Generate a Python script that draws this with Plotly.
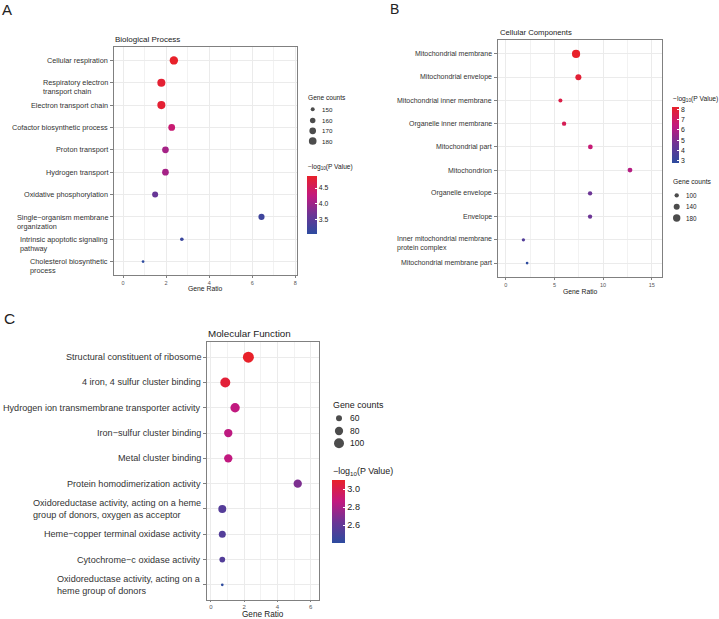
import math
import plotly.graph_objects as go

W, H = 719, 619
FONT = "Liberation Sans, Arial, sans-serif"

# ---------------- data ----------------
bp_terms = ["Cellular respiration", "Respiratory electron\ntransport chain", "Electron transport chain",
            "Cofactor biosynthetic process", "Proton transport", "Hydrogen transport",
            "Oxidative phosphorylation", "Single\u2212organism membrane\norganization",
            "Intrinsic apoptotic signaling\npathway", "Cholesterol biosynthetic\nprocess"]
bp_ratio = [2.36, 1.78, 1.78, 2.26, 1.97, 1.97, 1.49, 6.43, 2.73, 0.93]
bp_counts = [188, 184, 184, 171, 170, 170, 164, 165, 148, 144]
bp_logp = [4.89, 4.82, 4.82, 4.35, 4.05, 4.05, 3.6, 3.2, 3.15, 3.02]
bp_size_breaks = [150, 160, 170, 180]
bp_color_ticks = [3.5, 4.0, 4.5]
bp_x_ticks = [0, 2, 4, 6, 8]

cc_terms = ["Mitochondrial membrane", "Mitochondrial envelope", "Mitochondrial inner membrane",
            "Organelle inner membrane", "Mitochondrial part", "Mitochondrion", "Organelle envelope",
            "Envelope", "Inner mitochondrial membrane\nprotein complex", "Mitochondrial membrane part"]
cc_ratio = [7.22, 7.46, 5.61, 5.99, 8.69, 12.76, 8.66, 8.66, 1.81, 2.19]
cc_counts = [209, 140, 94, 100, 108, 110, 100, 100, 83, 74]
cc_logp = [8.22, 7.95, 7.6, 7.3, 6.6, 6.1, 4.6, 4.6, 3.9, 2.8]
cc_size_breaks = [100, 140, 180]
cc_color_ticks = [3, 4, 5, 6, 7, 8]
cc_x_ticks = [0, 5, 10, 15]

mf_terms = ["Structural constituent of ribosome", "4 iron, 4 sulfur cluster binding",
            "Hydrogen ion transmembrane transporter activity", "Iron\u2212sulfur cluster binding",
            "Metal cluster binding", "Protein homodimerization activity",
            "Oxidoreductase activity, acting on a heme\ngroup of donors, oxygen as acceptor",
            "Heme\u2212copper terminal oxidase activity", "Cytochrome\u2212c oxidase activity",
            "Oxidoreductase activity, acting on a\nheme group of donors"]
mf_ratio = [2.25, 0.86, 1.45, 1.04, 1.04, 5.22, 0.68, 0.68, 0.68, 0.68]
mf_counts = [113, 100, 92, 81, 81, 81, 77, 68, 58, 42]
mf_logp = [3.1, 3.06, 2.86, 2.85, 2.86, 2.68, 2.55, 2.54, 2.54, 2.4]
mf_size_breaks = [60, 80, 100]
mf_color_ticks = [2.6, 2.8, 3.0]
mf_x_ticks = [0, 2, 4, 6]

# ---------------- style ----------------
COLORSCALE = [[0.0, "#2D4B9F"], [0.33, "#6B3595"], [0.66, "#C2197F"], [1.0, "#E8212A"]]
GRID = "#EBEBEB"
FRAME = "#808080"


def size_scale(values, dmin, dmax, vmin, vmax):
    out = []
    for v in values:
        t = (v - vmin) / (vmax - vmin)
        out.append(math.sqrt(dmin ** 2 + (dmax ** 2 - dmin ** 2) * t))
    return out


panels = [
    dict(key="", terms=bp_terms, ratio=bp_ratio, counts=bp_counts, logp=bp_logp,
         breaks=bp_size_breaks, cticks=bp_color_ticks, xticks=bp_x_ticks, minor=1,
         dom=(114, 297, 47, 275), xr=[-0.42, 8.08], dmin=2.7, dmax=8.4, xticklen=2,
         lab_font=7.3, lab_shift=-4.7, tick_font=5.5, title="Biological Process", title_font=8,
         title_pos=(114, 39.5), letter="A", letter_pos=(1, 9), letter_size=15,
         xtitle_pos=(205.5, 288.5), xtitle_font=6.8,
         leg=dict(title_y=97, dot_x=312.7, lab_x=321, rows=[109.3, 120.5, 130.8, 141], font=6.2,
                  ct_y=167, cb_x=307, cb_top=176, cb_len=58, cb_th=10)),
    dict(key="2", terms=cc_terms, ratio=cc_ratio, counts=cc_counts, logp=cc_logp,
         breaks=cc_size_breaks, cticks=cc_color_ticks, xticks=cc_x_ticks, minor=2.5,
         dom=(498, 662, 40, 277), xr=[-0.8, 16.05], dmin=2.7, dmax=8.2, xticklen=2,
         lab_font=7.0, lab_shift=-3.5, tick_font=5.5, title="Cellular Components", title_font=7.7,
         title_pos=(499, 32), letter="B", letter_pos=(389, 8.5), letter_size=14,
         xtitle_pos=(580, 291), xtitle_font=6.8,
         leg=dict(title_y=181.7, dot_x=676.7, lab_x=684.5, rows=[195.3, 206.7, 218], font=6.3,
                  ct_y=99, cb_x=672, cb_top=107, cb_len=56, cb_th=7)),
    dict(key="3", terms=mf_terms, ratio=mf_ratio, counts=mf_counts, logp=mf_logp,
         breaks=mf_size_breaks, cticks=mf_color_ticks, xticks=mf_x_ticks, minor=1,
         dom=(207, 319, 342, 600), xr=[-0.24, 6.5], dmin=2.7, dmax=11, xticklen=1,
         lab_font=9.1, lab_shift=0, tick_font=6.0, title="Molecular Function", title_font=9.8,
         title_pos=(207, 333.5), letter="C", letter_pos=(3, 318.5), letter_size=15.5,
         xtitle_pos=(263, 614.6), xtitle_font=8.2,
         leg=dict(title_y=404.5, dot_x=339, lab_x=348.5, rows=[418.3, 431, 443.3], font=8.5,
                  ct_y=471, cb_x=332, cb_top=480, cb_len=63, cb_th=13)),
]

fig = go.Figure()
layout = dict(width=W, height=H, autosize=False, margin=dict(l=0, r=0, t=0, b=0),
              paper_bgcolor="white", plot_bgcolor="rgba(0,0,0,0)", showlegend=False,
              font=dict(family=FONT, color="#222222"))
annotations = []

# overlay pixel axis for legends / titles
layout["xaxis4"] = dict(domain=[0, 1], range=[0, W], visible=False, fixedrange=True, anchor="y4")
layout["yaxis4"] = dict(domain=[0, 1], range=[H, 0], visible=False, fixedrange=True, anchor="x4")


def pix_text(text, x, y, size, xanchor="left", yanchor="middle", color="#222222", align="left"):
    annotations.append(dict(text=text, x=x, y=y, xref="x4", yref="y4", showarrow=False,
                            xanchor=xanchor, yanchor=yanchor, align=align, borderpad=0,
                            font=dict(size=size, color=color, family=FONT)))


for p in panels:
    k = p["key"]
    x0, x1, y0, y1 = p["dom"]
    n = len(p["terms"])
    vmin, vmax = min(p["counts"]), max(p["counts"])
    sizes = size_scale(p["counts"], p["dmin"], p["dmax"], vmin, vmax)
    cmin, cmax = min(p["logp"]), max(p["logp"])
    ca = "coloraxis" + k
    leg = p["leg"]

    fig.add_trace(go.Scatter(
        x=p["ratio"], y=p["terms"], mode="markers", xaxis="x" + k, yaxis="y" + k,
        marker=dict(size=sizes, sizemode="diameter", color=p["logp"], coloraxis=ca,
                    line=dict(width=0), opacity=1),
        hoverinfo="x+y"))

    layout[ca] = dict(
        colorscale=COLORSCALE, cmin=cmin, cmax=cmax,
        colorbar=dict(x=leg["cb_x"] / W, xanchor="left", y=1 - leg["cb_top"] / H, yanchor="top",
                      len=leg["cb_len"], lenmode="pixels", thickness=leg["cb_th"],
                      thicknessmode="pixels", xpad=0, ypad=0, outlinewidth=0, borderwidth=0,
                      tickvals=p["cticks"], ticktext=[("%g" % v) if k == "2" else ("%.1f" % v) for v in p["cticks"]],
                      ticks="inside", ticklen=2, tickcolor="white", tickwidth=1,
                      tickfont=dict(size=leg["font"] + 0.6, color="#222222", family=FONT)))

    layout["xaxis" + k] = dict(
        domain=[x0 / W, x1 / W], range=p["xr"], anchor="y" + k, tickvals=p["xticks"],
        showgrid=True, gridcolor=GRID, gridwidth=1,
        minor=dict(showgrid=True, dtick=p["minor"], tick0=0, gridcolor="#F2F2F2", gridwidth=0.6),
        showline=True, mirror=True, linecolor=FRAME, linewidth=1, zeroline=False,
        ticks="outside", ticklen=p["xticklen"], tickcolor=FRAME, tickwidth=0.6,
        tickfont=dict(size=p["tick_font"], color="#555555", family=FONT), fixedrange=True)
    layout["yaxis" + k] = dict(
        domain=[1 - y1 / H, 1 - y0 / H], type="category", categoryorder="array",
        categoryarray=p["terms"], range=[n - 1 + 0.6, -0.6], anchor="x" + k,
        showticklabels=False, showgrid=True, gridcolor=GRID, gridwidth=1,
        showline=True, mirror=True, linecolor=FRAME, linewidth=1, zeroline=False,
        ticks="outside", ticklen=3, tickcolor=FRAME, tickwidth=0.6, fixedrange=True)

    # y labels
    for t in p["terms"]:
        multi = "\n" in t
        annotations.append(dict(
            text=t.replace("\n", "<br>"), x=0, y=t, xref="x%s domain" % k, yref="y" + k,
            xanchor="right", yanchor="middle", align="left", xshift=-4,
            yshift=p["lab_shift"] if multi else 0, showarrow=False,
            font=dict(size=p["lab_font"], color="#333333", family=FONT)))

    # titles
    pix_text(p["title"], p["title_pos"][0], p["title_pos"][1], p["title_font"])
    pix_text(p["letter"], p["letter_pos"][0], p["letter_pos"][1], p["letter_size"])
    pix_text("Gene Ratio", p["xtitle_pos"][0], p["xtitle_pos"][1], p["xtitle_font"], xanchor="center")

    # size legend
    pix_text("Gene counts", leg["cb_x"], leg["title_y"], leg["font"] + 0.4)
    leg_sizes = size_scale(p["breaks"], p["dmin"], p["dmax"], vmin, vmax)
    fig.add_trace(go.Scatter(
        x=[leg["dot_x"]] * len(p["breaks"]), y=leg["rows"], mode="markers",
        xaxis="x4", yaxis="y4", hoverinfo="skip",
        marker=dict(size=leg_sizes, sizemode="diameter", color="black", line=dict(width=0))))
    for b, yy in zip(p["breaks"], leg["rows"]):
        pix_text(str(b), leg["lab_x"], yy, leg["font"])
    pix_text("\u2212log<sub>10</sub>(P Value)", leg["cb_x"], leg["ct_y"], leg["font"] + 0.4)

layout["annotations"] = annotations
fig.update_layout(**layout)
fig.write_html("out.html", config={"displayModeBar": False},
               post_script="document.body.style.margin='0';document.body.style.padding='0';")
